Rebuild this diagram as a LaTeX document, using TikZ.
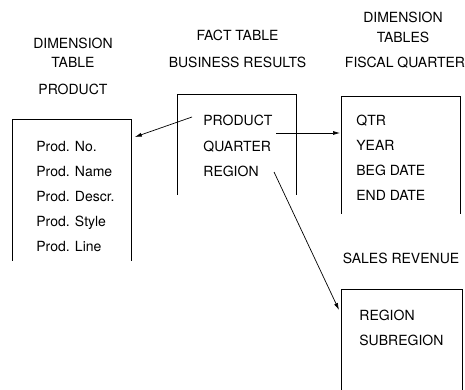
\documentclass[tikz,border=0pt]{standalone}
\usepackage{fontspec}
\setmainfont{TeX Gyre Heros}
\usetikzlibrary{arrows.meta, calc}

\tikzset{
    head/.style={inner sep=0pt, text height=10pt, text depth=0pt, font=\fontsize{14}{17}\selectfont},
    item/.style={head, anchor=west},
    tbl/.style={draw=none, inner sep=0pt, anchor=north west},
    arr/.style={line width=0.7pt, -{Latex[length=7pt,width=4pt]}}
}

\begin{document}
\begin{tikzpicture}[x=1pt, y=-1pt, line width=0.8pt, color=black]
    \useasboundingbox (0,0) rectangle (465,389);

    % product dimension
    \node[head] (pdim) at (73,43) {DIMENSION};
    \node[head] (ptab) at (73,62) {TABLE};
    \node[head] (pname) at (73,89) {PRODUCT};
    \node[tbl, minimum width=119pt, minimum height=141pt] (prodbox) at (12,119) {};
    \draw (prodbox.south west) |- (prodbox.north east) -- (prodbox.south east);
    \node[item] (pno) at (36,146) {Prod. No.};
    \node[item] (pnm) at (36,171) {Prod. Name};
    \node[item] (pds) at (36,196) {Prod. Descr.};
    \node[item] (pst) at (36,221) {Prod. Style};
    \node[item] (pln) at (36,246) {Prod. Line};

    % fact table
    \node[head] (ftab) at (237.5,35) {FACT TABLE};
    \node[head] (fname) at (237.5,62) {BUSINESS RESULTS};
    \node[tbl, minimum width=119pt, minimum height=100pt] (factbox) at (177,94) {};
    \draw (factbox.south west) |- (factbox.north east) -- (factbox.south east);
    \node[item] (fprod) at (203,120) {PRODUCT};
    \node[item] (fquart) at (203,146) {QUARTER};
    \node[item] (freg) at (203,171) {REGION};

    % fiscal quarter
    \node[head] (qdim) at (403,17) {DIMENSION};
    \node[head] (qtab) at (403,37) {TABLES};
    \node[head] (qname) at (405,62) {FISCAL QUARTER};
    \node[tbl, minimum width=119pt, minimum height=117pt] (fiscbox) at (341,96) {};
    \draw (fiscbox.south west) |- (fiscbox.north east) -- (fiscbox.south east);
    \node[item] (qqtr) at (356,120) {QTR};
    \node[item] (qyear) at (356,145) {YEAR};
    \node[item] (qbeg) at (356,170) {BEG DATE};
    \node[item] (qend) at (356,195) {END DATE};

    % sales revenue
    \node[head] (sname) at (401,258) {SALES REVENUE};
    \node[tbl, minimum width=121pt, minimum height=110pt] (salesbox) at (341,289) {};
    \draw (salesbox.south west) |- (salesbox.north east) -- (salesbox.south east);
    \node[item] (sreg) at (359,315) {REGION};
    \node[item] (ssub) at (359,340) {SUBREGION};

    \draw[arr] ($(fprod.west)+(-11,-3)$) -- ($(prodbox.north east |- pno)+(3,-9)$);
    \draw[arr] ($(fprod.east)!.5!(fquart.east)+(4,0)$) -- ($(fiscbox.north west |- fquart)+(-1,-13)$);
    \draw[arr] ($(freg.east)+(15,1)$) -- ($(salesbox.north west |- sreg)+(-2,-5)$);
\end{tikzpicture}
\end{document}
